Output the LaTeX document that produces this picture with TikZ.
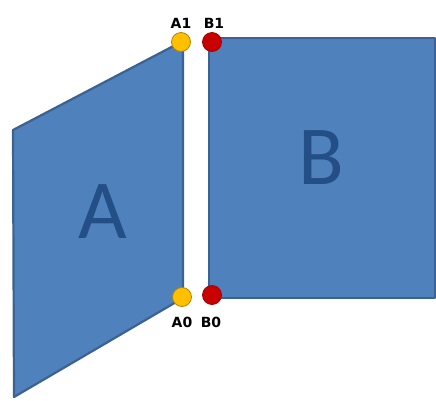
\documentclass[tikz,border=0pt]{standalone}
\usepackage{fontspec}
\setmainfont{Carlito}
\newfontfamily\pinfont{DejaVu Sans}
\usetikzlibrary{positioning}
\definecolor{panelfill}{HTML}{4F81BD}
\definecolor{paneledge}{HTML}{3B6291}
\definecolor{letterblue}{HTML}{234E86}
\definecolor{pinyellow}{HTML}{FFC000}
\definecolor{pinred}{HTML}{C80000}

\begin{document}
\begin{tikzpicture}[x=1pt, y=-1pt,
    panel/.style={fill=panelfill, draw=paneledge, line width=2.2pt, line join=round},
    bigletter/.style={text=letterblue, font=\fontsize{84}{84}\selectfont},
    pin/.style={circle, minimum size=19pt, inner sep=0pt, line width=0.8pt},
    pinlabel/.style={font=\pinfont\fontsize{14}{14}\selectfont\bfseries, inner sep=1pt}]
    \useasboundingbox (0,0) rectangle (436,400);
    % panels
    \draw[panel] (13,130) -- (183,41) -- (183,298) -- (14,397) -- cycle;
    \draw[panel] (209,38) rectangle (435,298);
    \node[bigletter] (A) at (103,212) {A};
    \node[bigletter] (B) at (321,158) {B};
    % hinge points
    \node[pin, fill=pinyellow, draw=pinyellow!70!black] (a1) at (181,42) {};
    \node[pin, fill=pinred, draw=pinred!80!black] (b1) at (212,42) {};
    \node[pin, fill=pinyellow, draw=pinyellow!70!black] (a0) at (182,297) {};
    \node[pin, fill=pinred, draw=pinred!80!black] (b0) at (212,295) {};
    \node[pinlabel, above=2pt of a1] {A1};
    \node[pinlabel, above=2pt of b1, xshift=2pt] {B1};
    \node[pinlabel, below=9pt of a0] {A0};
    \node[pinlabel, below=11pt of b0, xshift=-1pt] {B0};
\end{tikzpicture}
\end{document}
